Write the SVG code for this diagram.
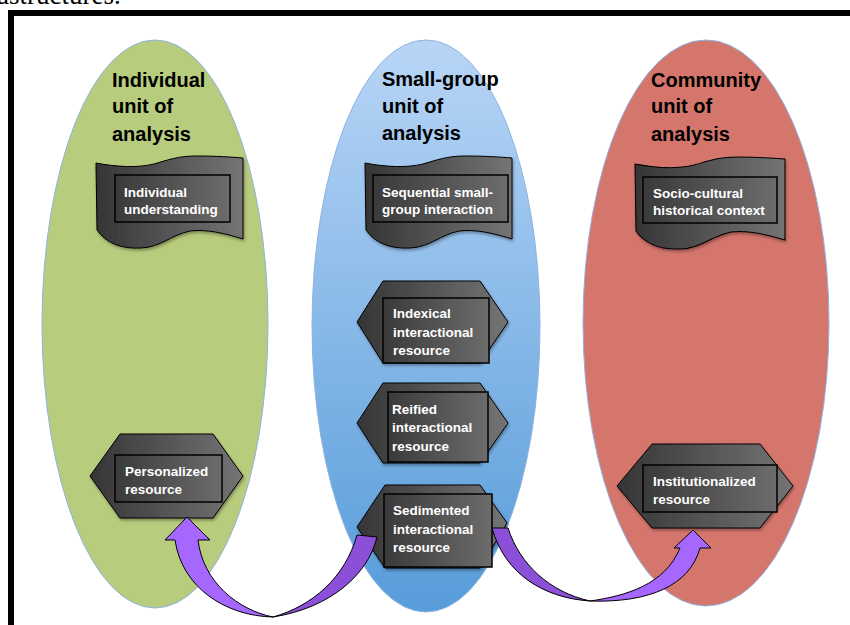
<svg xmlns="http://www.w3.org/2000/svg" xmlns:xlink="http://www.w3.org/1999/xlink" width="850" height="625" viewBox="0 0 850 625">
<style>
.title{font-family:"Liberation Sans",Arial,sans-serif;font-weight:bold;font-size:20px;fill:#000}
.lbl{font-family:"Liberation Sans",Arial,sans-serif;font-weight:bold;font-size:13.5px;fill:#fff}
.shape{fill:url(#grey);stroke:#000;stroke-width:1}
.box{fill:url(#grey2);stroke:#000;stroke-width:1.5}
.ell{stroke:#8fb3df;stroke-width:1}
.light{fill:#a667ff;stroke:#000;stroke-width:1}
.dark{fill:#8c50d8;stroke:#000;stroke-width:1}
</style>
<defs>
<linearGradient id="grey" x1="0" y1="0" x2="1" y2="0">
<stop offset="0" stop-color="#353535"/><stop offset="0.5" stop-color="#555"/><stop offset="1" stop-color="#747474"/>
</linearGradient>
<linearGradient id="grey2" x1="0" y1="0" x2="1" y2="0">
<stop offset="0" stop-color="#3a3a3a"/><stop offset="1" stop-color="#6c6c6c"/>
</linearGradient>
<linearGradient id="blue" x1="0" y1="0" x2="0" y2="1">
<stop offset="0" stop-color="#b8d5f6"/><stop offset="1" stop-color="#579cda"/>
</linearGradient>
<filter id="sh" x="-10%" y="-10%" width="130%" height="130%">
<feDropShadow dx="1" dy="2" stdDeviation="1.5" flood-color="#000" flood-opacity="0.35"/>
</filter>
<path id="banner" d="M0,0 C20,4 42,5 58,1 C72,-3 82,-7 100,-7 C120,-7 135,-6 147,-5 L147,76 C128,70 110,66 94,68 C75,72 65,84 45,85 C25,86 10,80 1,67 Z"/>
</defs>
<rect width="850" height="625" fill="#fff"/>
<text x="-3" y="4" font-family="Liberation Serif,serif" font-size="27">astructures.</text>
<rect x="8" y="10" width="842" height="6" fill="#000"/>
<rect x="8" y="10" width="6" height="615" fill="#000"/>

<g id="col-individual">
<ellipse class="ell" cx="155" cy="324" rx="113" ry="284" fill="#b8cc7d"/>
<text class="title" x="112" y="87">Individual</text>
<text class="title" x="112" y="113">unit of</text>
<text class="title" x="112" y="141">analysis</text>
</g>
<g id="col-smallgroup">
<ellipse class="ell" cx="426" cy="326" rx="114" ry="286" fill="url(#blue)"/>
<text class="title" x="382" y="86">Small-group</text>
<text class="title" x="382" y="113">unit of</text>
<text class="title" x="382" y="140">analysis</text>
</g>
<g id="col-community">
<ellipse class="ell" cx="706" cy="323" rx="123" ry="283" fill="#d5766d"/>
<text class="title" x="651" y="87">Community</text>
<text class="title" x="651" y="113">unit of</text>
<text class="title" x="651" y="141">analysis</text>
</g>

<g id="individual-understanding">
<use href="#banner" xlink:href="#banner" class="shape" filter="url(#sh)" transform="translate(96,163)"/>
<rect class="box" x="115" y="175" width="115" height="47"/>
<text class="lbl" x="124" y="197">Individual</text>
<text class="lbl" x="124" y="214">understanding</text>
</g>
<g id="sequential-interaction">
<use href="#banner" xlink:href="#banner" class="shape" filter="url(#sh)" transform="translate(365,163)"/>
<rect class="box" x="373" y="175" width="135" height="47"/>
<text class="lbl" x="382" y="197">Sequential small-</text>
<text class="lbl" x="382" y="214">group interaction</text>
</g>
<g id="sociocultural-context">
<use href="#banner" xlink:href="#banner" class="shape" filter="url(#sh)" transform="translate(635,164) scale(1.02,1)"/>
<rect class="box" x="643" y="177" width="134" height="46"/>
<text class="lbl" x="653" y="198">Socio-cultural</text>
<text class="lbl" x="653" y="215">historical context</text>
</g>

<g id="personalized-resource">
<polygon class="shape" filter="url(#sh)" points="90,476 120,434 213,434 243,476 213,518 120,518"/>
<rect class="box" x="115" y="455" width="107" height="47"/>
<text class="lbl" x="125" y="476">Personalized</text>
<text class="lbl" x="125" y="494">resource</text>
</g>
<g id="indexical-resource">
<polygon class="shape" filter="url(#sh)" points="357,322 383,281 480,281 508,322 480,363 383,363"/>
<rect class="box" x="383" y="298" width="106" height="65"/>
<text class="lbl" x="393" y="318">Indexical</text>
<text class="lbl" x="393" y="337">interactional</text>
<text class="lbl" x="393" y="355">resource</text>
</g>
<g id="reified-resource">
<polygon class="shape" filter="url(#sh)" points="357,423 383,383 480,383 508,423 480,463 383,463"/>
<rect class="box" x="388" y="392" width="100" height="70"/>
<text class="lbl" x="392" y="414">Reified</text>
<text class="lbl" x="392" y="432">interactional</text>
<text class="lbl" x="392" y="451">resource</text>
</g>
<g id="sedimented-resource">
<polygon class="shape" filter="url(#sh)" points="357,527 385,485 480,485 507,523 480,568 385,568"/>
<rect class="box" x="384" y="494" width="108" height="73"/>
<text class="lbl" x="393" y="515">Sedimented</text>
<text class="lbl" x="393" y="534">interactional</text>
<text class="lbl" x="393" y="552">resource</text>
</g>
<g id="institutionalized-resource">
<polygon class="shape" filter="url(#sh)" points="617,486 652,444 760,444 793,486 760,528 652,528"/>
<rect class="box" x="643" y="465" width="134" height="47"/>
<text class="lbl" x="653" y="486">Institutionalized</text>
<text class="lbl" x="653" y="504">resource</text>
</g>

<g id="connectors">
<path class="dark" d="M357,535 L377,537 C368,575 330,608 273,617 C312,606 345,578 357,535 Z"/>
<path class="light" d="M187,517 L210,540 L198,540 C203,582 238,610 273,617 C226,616 182,588 175,540 L165,540 Z"/>
<path class="dark" d="M492,528 L508,528 C520,565 550,592 590,601 C545,598 505,575 492,528 Z"/>
<path class="light" d="M693,530 L711,548 L700,548 C690,585 650,603 590,601 C625,596 665,585 680,548 L674,548 Z"/>
</g>
</svg>
